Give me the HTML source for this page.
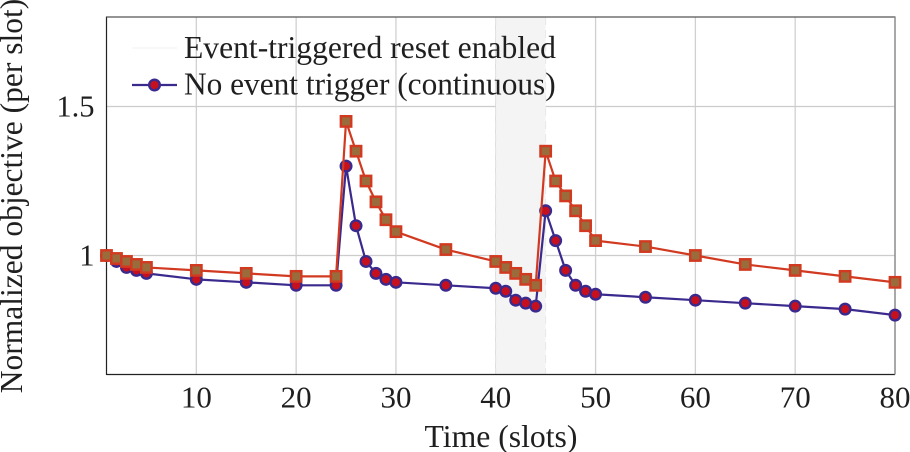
<!DOCTYPE html>
<html><head><meta charset="utf-8"><style>
html,body{margin:0;padding:0;background:#fff;width:910px;height:452px;overflow:hidden}
svg{display:block}
text{font-family:"Liberation Serif",serif;fill:#1f1f1f}
</style></head><body>
<svg id="chart" xmlns="http://www.w3.org/2000/svg" width="910" height="452" viewBox="0 0 910 452"></svg>
<script>
const slots=[1,2,3,4,5,10,15,20,24,25,26,27,28,29,30,35,40,41,42,43,44,45,46,47,48,49,50,55,60,65,70,75,80];
const eventTriggered=[1,.99,.98,.97,.96,.95,.94,.93,.93,1.45,1.35,1.25,1.18,1.12,1.08,1.02,.98,.96,.94,.92,.90,1.35,1.25,1.20,1.15,1.10,1.05,1.03,1.00,.97,.95,.93,.91];
const noTrigger=[1,.98,.96,.95,.94,.92,.91,.90,.90,1.30,1.10,.98,.94,.92,.91,.90,.89,.88,.85,.84,.83,1.15,1.05,.95,.90,.88,.87,.86,.85,.84,.83,.82,.80];
const xTicks=[10,20,30,40,50,60,70,80];
const yTicks=[1,1.5];
const yTickLabels=["1","1.5"];
const shadedRange=[40,45];
const legendLabels=["Event-triggered reset enabled","No event trigger (continuous)"];

const svg=document.getElementById('chart');
const NS='http://www.w3.org/2000/svg';
const xScale=v=>106.5+(v-1)*(895-106.5)/79;
const yScale=v=>255.5-(v-1)*298;
const L=106.5,R=895,T=17,B=374.5;
function mk(tag,attrs,parent){
  const e=document.createElementNS(NS,tag);
  for(const k in attrs)e.setAttribute(k,attrs[k]);
  (parent||svg).appendChild(e);
  return e;
}
function group(name){
  const g=mk('g',{});
  
  
  return g;
}
// grid
const grid=group('grid');
xTicks.forEach(t=>{
  const l=mk('line',{x1:xScale(t),x2:xScale(t),y1:T,y2:B,stroke:'#d0d0d0','stroke-width':1.3},grid);
  
  
});
yTicks.forEach(t=>{
  const l=mk('line',{x1:L,x2:R,y1:yScale(t),y2:yScale(t),stroke:'#cccccc','stroke-width':1.3},grid);
  
  
});
// shaded band
const band=mk('rect',{x:xScale(shadedRange[0]),y:T,width:xScale(shadedRange[1])-xScale(shadedRange[0]),height:B-T,fill:'#f4f4f5'});


shadedRange.forEach(v=>{
  const l=mk('line',{x1:xScale(v),x2:xScale(v),y1:T,y2:B,stroke:'#e8e8e8','stroke-width':1,'stroke-dasharray':'8 5'});
  
  
});
// axes frame
const axes=group('axes-frame');
mk('line',{x1:L,x2:L,y1:T-.5,y2:B+.5,stroke:'#222','stroke-width':1.2},axes);
mk('line',{x1:L,x2:R,y1:B,y2:B,stroke:'#222','stroke-width':1.2},axes);
mk('line',{x1:L,x2:R+.5,y1:T,y2:T,stroke:'#555','stroke-width':1.2},axes);
mk('line',{x1:R,x2:R,y1:T,y2:B,stroke:'#8a8a8a','stroke-width':1.4},axes);
// series
function circleMark(parent,x,y){
  return mk('circle',{cx:x,cy:y,r:5.3,fill:'#c6101e',stroke:'#3a2a8e','stroke-width':2.4},parent);
}
function squareMark(parent,x,y){
  return mk('rect',{x:x-5.2,y:y-5.2,width:10.4,height:10.4,fill:'#9a6b3b',stroke:'#d13a20','stroke-width':2.4},parent);
}
function series(name,values,color,mark){
  const g=group(name);
  const pts=slots.map((s,i)=>xScale(s)+','+yScale(values[i])).join(' ');
  mk('polyline',{points:pts,fill:'none',stroke:color,'stroke-width':2.2,'stroke-linejoin':'round'},g);
  slots.forEach((s,i)=>{
    const m=mark(g,xScale(s),yScale(values[i]));
    
    
  });
}
series('no-event-trigger-series',noTrigger,'#3a2a8e',circleMark);
series('event-triggered-series',eventTriggered,'#d13a20',squareMark);
// tick labels
xTicks.forEach(t=>{
  const e=mk('text',{x:xScale(t),y:407.5,'text-anchor':'middle','font-size':31});
  e.textContent=t;
  
  
});
yTicks.forEach((t,i)=>{
  const e=mk('text',{x:94.5,y:yScale(t)+10,'text-anchor':'end','font-size':30.5});
  e.textContent=yTickLabels[i];
  
  
});
// axis titles
const xt=mk('text',{x:501,y:447,'text-anchor':'middle','font-size':31.7});
xt.textContent='Time (slots)';


const yt=mk('text',{x:0,y:0,'text-anchor':'middle','font-size':31.5,transform:'translate(22,196) rotate(-90)'});
yt.textContent='Normalized objective (per slot)';


// legend
const lg=group('legend');
const e1=group('legend-entry-event-triggered');
lg.appendChild(e1);
mk('line',{x1:132,x2:177,y1:48,y2:48,stroke:'#f3f3f4','stroke-width':1.2},e1);
const t1=mk('text',{x:184,y:58,'font-size':31.6},e1);
t1.textContent=legendLabels[0];
const e2=group('legend-entry-no-trigger');
lg.appendChild(e2);
mk('line',{x1:132,x2:177,y1:85,y2:85,stroke:'#3a2a8e','stroke-width':2.2},e2);
circleMark(e2,154.5,85);
const t2=mk('text',{x:184,y:94.5,'font-size':31.35},e2);
t2.textContent=legendLabels[1];
</script>
</body></html>
